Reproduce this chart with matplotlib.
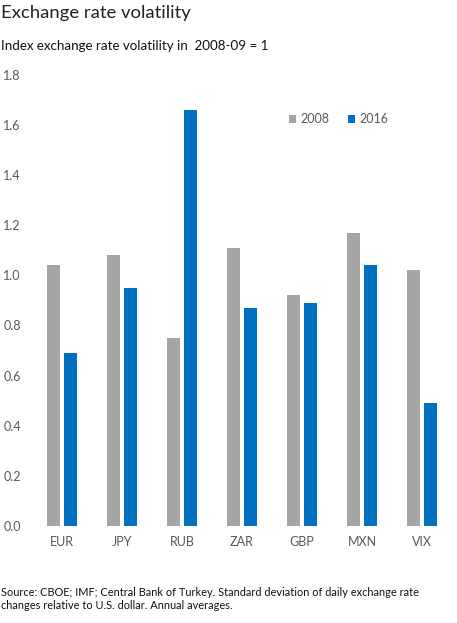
import numpy as np
import matplotlib
matplotlib.use("Agg")
import matplotlib.pyplot as plt

plt.rcParams['font.family'] = ['Lato', 'DejaVu Sans']

currencies = ["EUR", "JPY", "RUB", "ZAR", "GBP", "MXN", "VIX"]
vol_2008 = [1.04, 1.08, 0.75, 1.11, 0.92, 1.17, 1.02]
vol_2016 = [0.69, 0.95, 1.66, 0.87, 0.89, 1.04, 0.49]

fig = plt.figure(figsize=(4.57, 6.23), dpi=100)
ax = fig.add_axes([0.070, 0.156, 0.919, 0.7236])

x = np.arange(len(currencies))
w = 0.217
off = 0.1415
ax.bar(x - off, vol_2008, width=w, color="#A5A5A5", label="2008")
ax.bar(x + off, vol_2016, width=w, color="#0070C0", label="2016")

ax.set_xlim(-0.5, len(currencies) - 0.5)
ax.set_ylim(0, 1.8)
ax.set_yticks(np.arange(0, 1.81, 0.2))
ax.set_yticklabels([f"{v:.1f}" for v in np.arange(0, 1.81, 0.2)])
ax.set_xticks(x)
ax.set_xticklabels(currencies)
ax.tick_params(length=0, labelsize=9, colors="#595959", pad=7)
ax.tick_params(axis="y", pad=8)
for s in ax.spines.values():
    s.set_visible(False)

ax.legend(loc="upper left", bbox_to_anchor=(0.585, 0.94), ncol=2, frameon=False,
          fontsize=9, handlelength=0.6, handleheight=0.6, handletextpad=0.3,
          columnspacing=1.5, labelcolor="#595959")

fig.text(0.002, 0.992, "Exchange rate volatility", fontsize=13.3, va="top", color="#222222")
fig.text(0.002, 0.936, "Index exchange rate volatility in  2008-09 = 1", fontsize=9.6, va="top", color="#111111")
fig.text(0.002, 0.058, "Source: CBOE; IMF; Central Bank of Turkey. Standard deviation of daily exchange rate\n"
         "changes relative to U.S. dollar. Annual averages.",
         fontsize=7.9, va="top", color="#111111", linespacing=1.25)

fig.savefig("out.png", dpi=100)
